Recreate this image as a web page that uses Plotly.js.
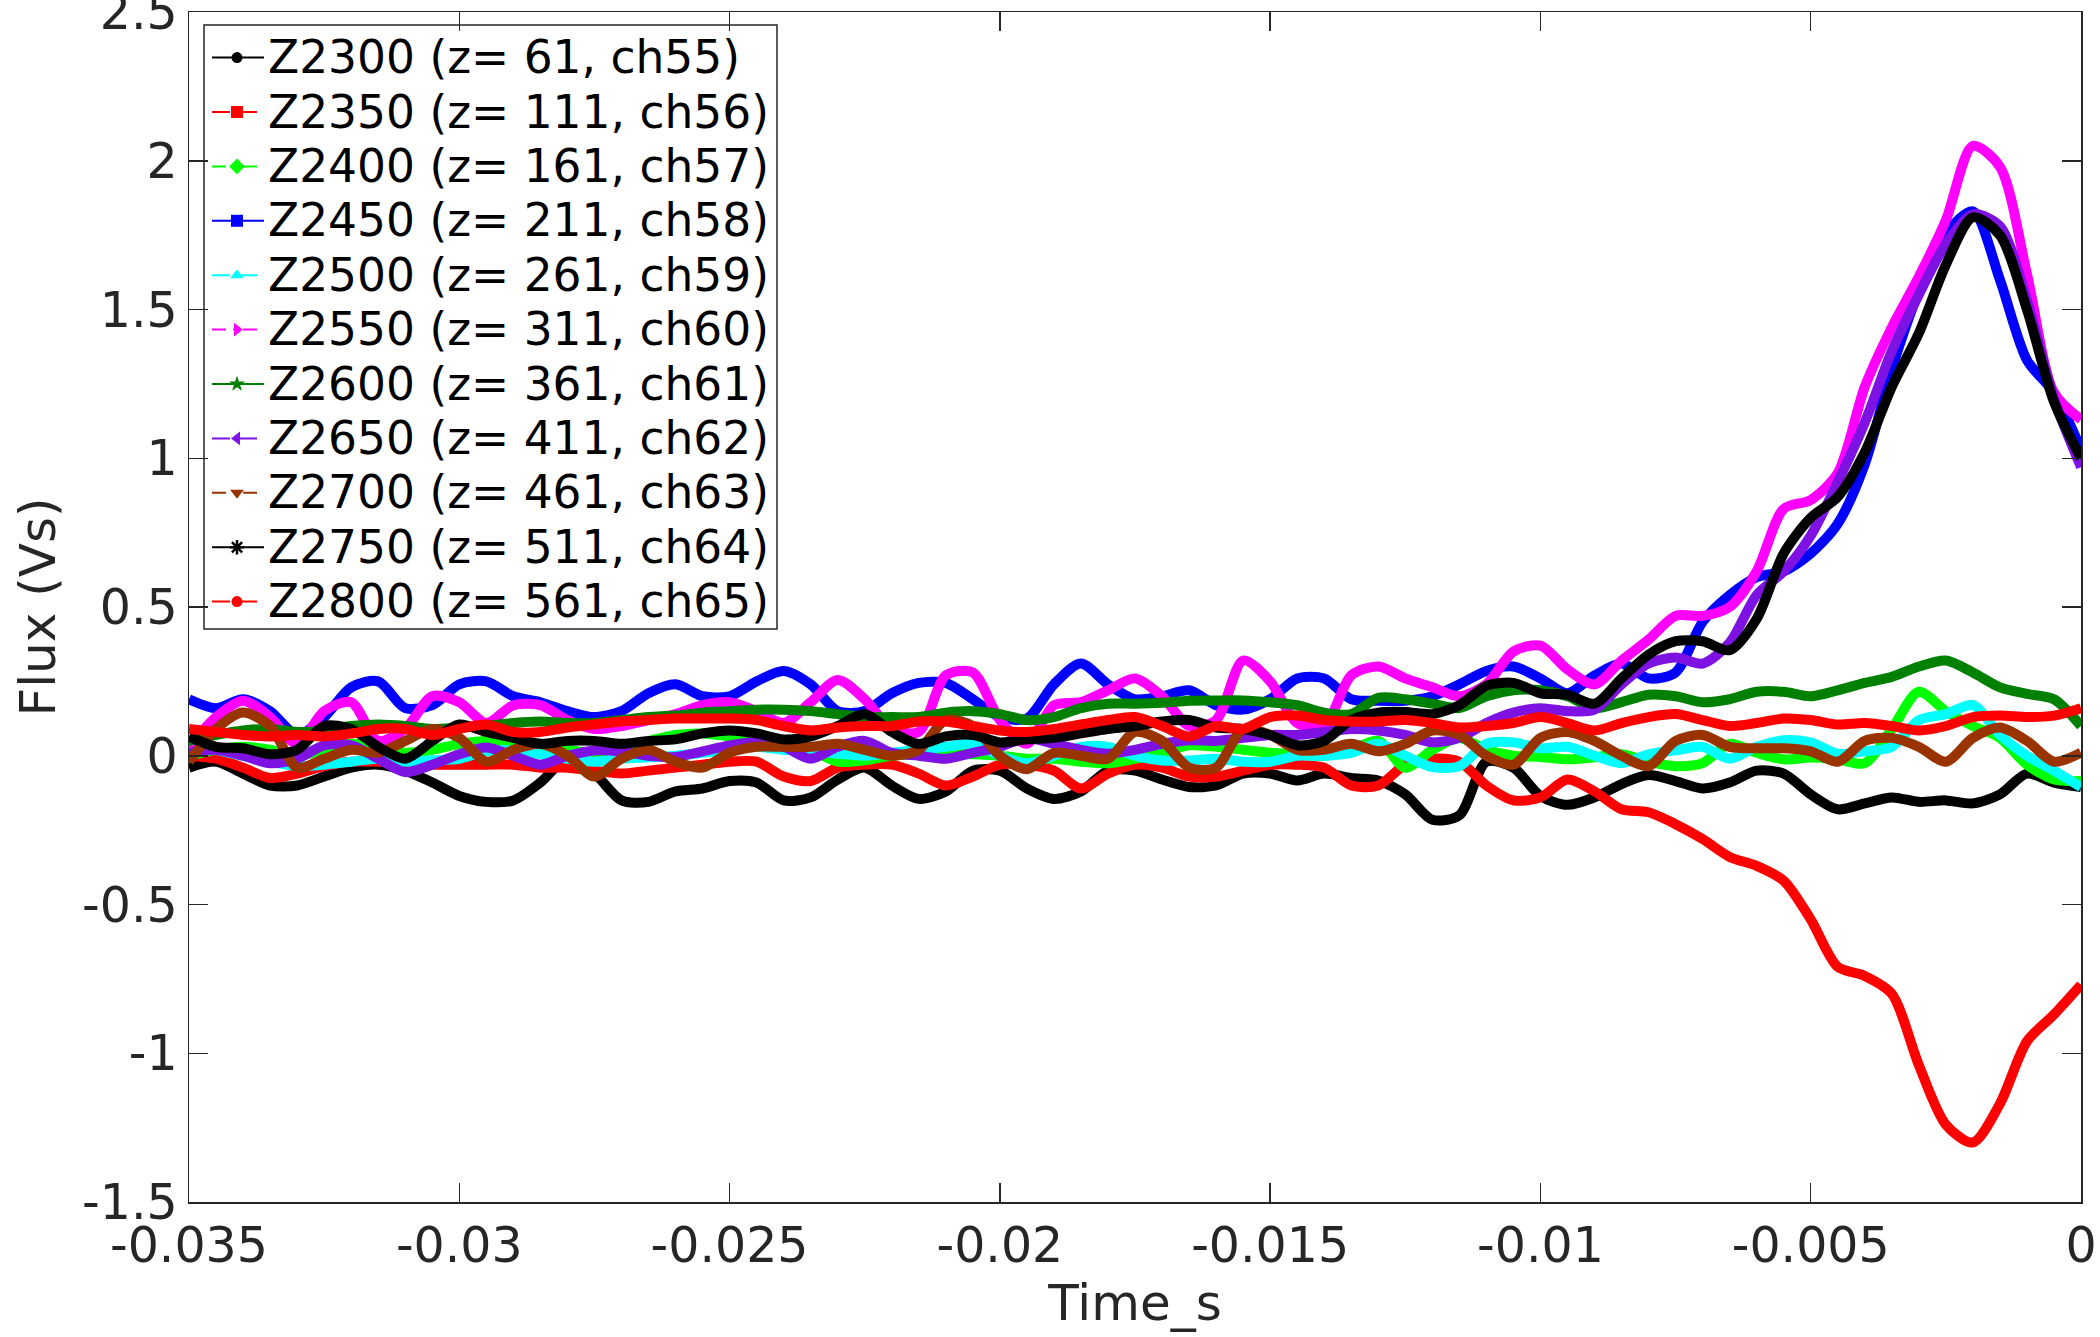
<!DOCTYPE html>
<html><head><meta charset="utf-8">
<script src="https://cdn.plot.ly/plotly-3.0.1.min.js"></script>
<style>html,body{margin:0;padding:0;background:#fff}#chart{width:2100px;height:1337px}</style>
</head><body><div id="chart"></div>
<script>
const time_s = [-0.035,-0.0345,-0.034,-0.0335,-0.033,-0.0325,-0.032,-0.0315,-0.031,-0.0305,
-0.03,-0.0295,-0.029,-0.0285,-0.028,-0.0275,-0.027,-0.0265,-0.026,-0.0255,
-0.025,-0.0245,-0.024,-0.0235,-0.023,-0.0225,-0.022,-0.0215,-0.021,-0.0205,
-0.02,-0.0195,-0.019,-0.0185,-0.018,-0.0175,-0.017,-0.0165,-0.016,-0.0155,
-0.015,-0.0145,-0.014,-0.0135,-0.013,-0.0125,-0.012,-0.0115,-0.011,-0.0105,
-0.01,-0.0095,-0.009,-0.0085,-0.008,-0.0075,-0.007,-0.0065,-0.006,-0.0055,
-0.005,-0.0045,-0.004,-0.0035,-0.003,-0.0025,-0.002,-0.0015,-0.001,-0.0005,0];

const z2300 = [-0.04,-0.02,-0.06,-0.10,-0.10,-0.07,-0.04,-0.03,-0.05,-0.09,
-0.135,-0.155,-0.15,-0.09,-0.01,-0.06,-0.15,-0.155,-0.12,-0.11,
-0.085,-0.09,-0.15,-0.14,-0.08,-0.04,-0.10,-0.145,-0.12,-0.05,
-0.05,-0.11,-0.145,-0.12,-0.05,-0.05,-0.08,-0.105,-0.10,-0.06,
-0.06,-0.083,-0.06,-0.075,-0.083,-0.13,-0.215,-0.20,-0.02,-0.04,
-0.135,-0.165,-0.14,-0.095,-0.065,-0.085,-0.11,-0.09,-0.05,-0.06,
-0.13,-0.18,-0.16,-0.14,-0.155,-0.15,-0.16,-0.13,-0.06,-0.09,-0.105];

const z2350 = [0.0,-0.01,-0.04,-0.075,-0.06,-0.035,-0.02,-0.02,-0.02,-0.03,
-0.03,-0.03,-0.03,-0.04,-0.04,-0.05,-0.06,-0.05,-0.04,-0.03,
-0.02,-0.02,-0.07,-0.085,-0.04,-0.03,-0.03,-0.06,-0.10,-0.07,
-0.03,-0.03,-0.05,-0.11,-0.06,-0.03,-0.04,-0.07,-0.07,-0.05,
-0.03,-0.03,-0.04,-0.10,-0.10,-0.03,-0.01,-0.02,-0.10,-0.15,
-0.14,-0.08,-0.12,-0.18,-0.19,-0.23,-0.28,-0.34,-0.37,-0.42,
-0.55,-0.71,-0.74,-0.80,-1.04,-1.24,-1.30,-1.17,-0.96,-0.87,-0.77];

const z2400 = [0.0,0.02,0.03,0.02,0.0,0.02,0.04,0.03,0.01,0.02,
0.04,0.05,0.04,0.03,0.02,0.01,0.03,0.05,0.07,0.075,
0.065,0.06,0.05,0.02,-0.02,-0.015,0.0,0.005,0.007,0.005,
0.0,-0.01,-0.01,-0.02,-0.025,-0.01,0.01,0.035,0.03,0.02,
0.01,0.005,0.0,0.02,0.05,-0.04,0.02,0.06,0.02,0.0,
-0.004,-0.012,-0.005,0.005,-0.02,-0.035,-0.025,0.04,0.01,-0.012,
-0.006,-0.012,-0.025,0.09,0.215,0.15,0.10,0.06,-0.03,-0.08,-0.085];

const z2450 = [0.19,0.16,0.19,0.15,0.07,0.13,0.23,0.25,0.16,0.17,
0.24,0.25,0.20,0.18,0.15,0.13,0.15,0.21,0.24,0.20,
0.20,0.25,0.285,0.24,0.15,0.15,0.21,0.245,0.245,0.19,
0.13,0.125,0.24,0.31,0.24,0.19,0.20,0.22,0.17,0.155,
0.19,0.26,0.26,0.19,0.185,0.185,0.20,0.24,0.285,0.30,
0.26,0.21,0.27,0.31,0.26,0.28,0.45,0.54,0.60,0.62,
0.68,0.78,0.98,1.30,1.56,1.756,1.83,1.60,1.33,1.22,1.03];

const z2500 = [0.04,0.02,0.0,-0.02,-0.035,-0.03,-0.02,-0.01,-0.02,-0.015,
-0.01,0.015,0.018,0.005,-0.01,-0.02,-0.01,-0.005,0.0,0.01,
0.02,0.03,0.02,0.015,0.007,0.0,0.01,0.02,0.03,0.04,
0.0,-0.025,0.0,0.03,0.03,0.0,-0.016,-0.016,-0.01,-0.02,
-0.02,0.0,0.0,0.01,0.04,0.0,-0.038,-0.035,0.04,0.045,
0.025,0.03,0.0,-0.025,0.005,0.018,0.03,-0.01,0.03,0.052,
0.045,0.007,0.015,0.03,0.12,0.14,0.17,0.07,0.0,-0.05,-0.105];

const z2550 = [0.03,0.13,0.185,0.13,0.04,0.15,0.18,0.05,0.09,0.20,
0.18,0.11,0.17,0.17,0.12,0.09,0.10,0.12,0.14,0.17,
0.18,0.15,0.11,0.18,0.255,0.19,0.09,0.08,0.27,0.28,
0.12,0.04,0.17,0.18,0.22,0.26,0.20,0.10,0.12,0.32,
0.25,0.11,0.10,0.27,0.30,0.26,0.23,0.20,0.24,0.35,
0.37,0.29,0.24,0.32,0.39,0.47,0.47,0.50,0.62,0.83,
0.86,0.95,1.24,1.44,1.61,1.80,2.05,1.98,1.62,1.22,1.13];

const z2600 = [0.05,0.07,0.085,0.09,0.08,0.085,0.10,0.105,0.10,0.09,
0.095,0.10,0.11,0.115,0.11,0.11,0.12,0.13,0.135,0.145,
0.15,0.155,0.155,0.15,0.14,0.13,0.13,0.13,0.145,0.15,
0.14,0.12,0.13,0.16,0.175,0.175,0.178,0.185,0.186,0.186,
0.18,0.17,0.145,0.14,0.195,0.19,0.175,0.16,0.20,0.22,
0.22,0.20,0.16,0.18,0.205,0.20,0.18,0.19,0.215,0.215,
0.20,0.22,0.245,0.265,0.30,0.32,0.28,0.23,0.208,0.19,0.10];

const z2650 = [0.01,0.02,0.0,-0.025,-0.01,0.035,0.035,-0.01,-0.055,-0.03,
0.005,0.028,0.0,-0.03,0.0,0.018,0.015,0.0,-0.004,0.015,
0.035,0.045,0.03,-0.01,0.03,0.05,0.01,0.0,-0.01,0.01,
0.03,0.06,0.04,0.02,0.007,0.02,0.04,0.052,0.05,0.06,
0.07,0.07,0.08,0.09,0.085,0.07,0.045,0.06,0.11,0.145,
0.16,0.15,0.155,0.24,0.31,0.33,0.31,0.38,0.54,0.62,
0.74,0.92,1.12,1.36,1.55,1.72,1.82,1.78,1.53,1.20,0.97];

const z2700 = [-0.02,0.09,0.145,0.10,-0.04,-0.01,0.02,0.01,0.05,0.09,
0.06,-0.02,0.02,0.04,0.0,-0.07,-0.01,0.02,-0.02,-0.04,
0.01,0.03,0.03,0.03,0.04,0.02,0.0,0.02,0.12,0.10,
0.0,-0.045,0.01,0.0,-0.01,0.08,0.05,-0.04,-0.04,0.09,
0.07,0.02,0.02,0.04,0.015,0.04,0.085,0.07,0.0,-0.03,
0.06,0.08,0.05,0.0,-0.035,0.05,0.07,0.03,0.025,0.025,
0.015,-0.02,0.05,0.06,0.03,-0.02,0.06,0.095,0.05,-0.02,0.01];

const z2750 = [0.065,0.03,0.025,0.005,0.02,0.10,0.09,0.03,-0.01,0.05,
0.105,0.08,0.06,0.04,0.05,0.05,0.04,0.05,0.055,0.075,
0.085,0.075,0.055,0.065,0.10,0.14,0.08,0.04,0.065,0.07,
0.045,0.055,0.06,0.075,0.09,0.10,0.115,0.12,0.095,0.09,
0.07,0.035,0.05,0.12,0.145,0.147,0.14,0.17,0.235,0.245,
0.21,0.205,0.175,0.26,0.34,0.385,0.385,0.355,0.46,0.68,
0.80,0.87,1.02,1.24,1.42,1.65,1.81,1.75,1.50,1.19,1.00];

const z2800 = [0.09,0.08,0.07,0.065,0.07,0.065,0.075,0.09,0.09,0.07,
0.09,0.105,0.08,0.08,0.095,0.105,0.115,0.12,0.125,0.125,
0.125,0.12,0.10,0.085,0.095,0.10,0.10,0.115,0.115,0.10,
0.085,0.08,0.09,0.105,0.12,0.13,0.10,0.065,0.10,0.09,
0.13,0.135,0.12,0.115,0.115,0.12,0.11,0.095,0.10,0.11,
0.13,0.11,0.085,0.11,0.13,0.14,0.12,0.10,0.11,0.125,
0.12,0.105,0.11,0.10,0.085,0.10,0.13,0.135,0.13,0.135,0.16];

const seriesValues = [z2300, z2350, z2400, z2450, z2500, z2550, z2600, z2650, z2700, z2750, z2800];
const seriesNames = ['Z2300 (z= 61, ch55)','Z2350 (z= 111, ch56)','Z2400 (z= 161, ch57)','Z2450 (z= 211, ch58)',
  'Z2500 (z= 261, ch59)','Z2550 (z= 311, ch60)','Z2600 (z= 361, ch61)','Z2650 (z= 411, ch62)',
  'Z2700 (z= 461, ch63)','Z2750 (z= 511, ch64)','Z2800 (z= 561, ch65)'];
const seriesColors = ['#000000','#ff0000','#00ff00','#0000ff','#00ffff','#ff00ff','#008000','#7d12e3','#993300','#000000','#ff0000'];
const seriesDash = ['solid','dash','dashdot','solid','dash','dashdot','solid','dash','dashdot','solid','dash'];
const seriesMarker = ['circle','square','diamond','square','triangle-up','triangle-right','star','triangle-left','triangle-down','asterisk-open','circle'];

const xTickVals = [-0.035,-0.03,-0.025,-0.02,-0.015,-0.01,-0.005,0];
const xTickText = ['-0.035','-0.03','-0.025','-0.02','-0.015','-0.01','-0.005','0'];
const yTickVals = [-1.5,-1,-0.5,0,0.5,1,1.5,2,2.5];
const yTickText = ['-1.5','-1','-0.5','0','0.5','1','1.5','2','2.5'];

const FONT = 'DejaVu Sans, Liberation Sans, sans-serif';
const AX = '#262626';

// plot area in pixels (used for the hand-built MATLAB-style legend overlay)
const W = 2100, H = 1337, ML = 189, MR = 19, MT = 12, MB = 135;
const PW = W - ML - MR, PH = H - MT - MB;

const traces = [];
seriesValues.forEach((vals, i) => {
  traces.push({
    x: time_s, y: vals, type: 'scatter', mode: 'lines',
    line: {color: seriesColors[i], width: 10, shape: 'spline', smoothing: 0.8},
    showlegend: false, hoverinfo: 'skip'
  });
});

// legend overlay (pixel coordinates relative to plot area)
const LEG = {left: 15, top: 13, right: 588, bottom: 617, row0: 45.6, rowStep: 54.4,
             lineX0: 23, lineX1: 75, markX: 48, textX: 77};
const legendDash = {solid: 'solid', dash: '18px,9px', dashdot: '14px,7px,3px,7px'};
const annotations = [];
seriesNames.forEach((name, i) => {
  const ry = LEG.row0 + LEG.rowStep * i;
  traces.push({
    x: [LEG.lineX0, LEG.lineX1], y: [ry, ry], xaxis: 'x2', yaxis: 'y2',
    type: 'scatter', mode: 'lines', showlegend: false, hoverinfo: 'skip',
    line: {color: seriesColors[i], width: 2, dash: legendDash[seriesDash[i]]}
  });
  const isAst = seriesMarker[i] === 'asterisk-open';
  traces.push({
    x: [LEG.markX], y: [ry], xaxis: 'x2', yaxis: 'y2',
    type: 'scatter', mode: 'markers', showlegend: false, hoverinfo: 'skip',
    marker: {symbol: seriesMarker[i], size: seriesMarker[i] === 'circle' ? 11 : 12,
             color: seriesColors[i], line: {color: seriesColors[i], width: isAst ? 2.5 : 0}}
  });
  annotations.push({
    xref: 'x2', yref: 'y2', x: LEG.textX, y: ry, xanchor: 'left', yanchor: 'middle',
    text: name, showarrow: false, font: {family: FONT, size: 45.5, color: '#000000'}
  });
});

const layout = {
  width: W, height: H,
  margin: {l: ML, r: MR, t: MT, b: MB, pad: 0},
  paper_bgcolor: '#ffffff', plot_bgcolor: '#ffffff',
  font: {family: FONT, color: AX},
  showlegend: false,
  annotations: annotations,
  shapes: [{type: 'rect', xref: 'x2', yref: 'y2', x0: LEG.left, x1: LEG.right, y0: LEG.top, y1: LEG.bottom,
            line: {color: AX, width: 1.5}, fillcolor: '#ffffff', layer: 'below'}],
  xaxis: {
    range: [-0.035, 0], tickvals: xTickVals, ticktext: xTickText,
    ticks: 'inside', ticklen: 19, tickwidth: 1.5, tickcolor: AX,
    showline: true, linecolor: AX, linewidth: 1.5, mirror: 'ticks',
    showgrid: false, zeroline: false, ticklabeloverflow: 'allow',
    tickfont: {family: FONT, size: 49, color: AX},
    title: {text: 'Time_s', font: {family: FONT, size: 50, color: AX}, standoff: 10}
  },
  yaxis: {
    range: [-1.5, 2.5], tickvals: yTickVals, ticktext: yTickText,
    ticks: 'inside', ticklen: 19, tickwidth: 1.5, tickcolor: AX,
    showline: true, linecolor: AX, linewidth: 1.5, mirror: 'ticks',
    showgrid: false, zeroline: false, ticklabeloverflow: 'allow',
    tickfont: {family: FONT, size: 49, color: AX},
    title: {text: 'Flux (Vs)', font: {family: FONT, size: 50, color: AX}, standoff: 10}
  },
  xaxis2: {overlaying: 'x', anchor: 'y2', range: [0, PW], visible: false, fixedrange: true},
  yaxis2: {overlaying: 'y', anchor: 'x2', range: [PH, 0], visible: false, fixedrange: true}
};

Plotly.newPlot('chart', traces, layout, {displayModeBar: false, staticPlot: true});
</script>
</body></html>
